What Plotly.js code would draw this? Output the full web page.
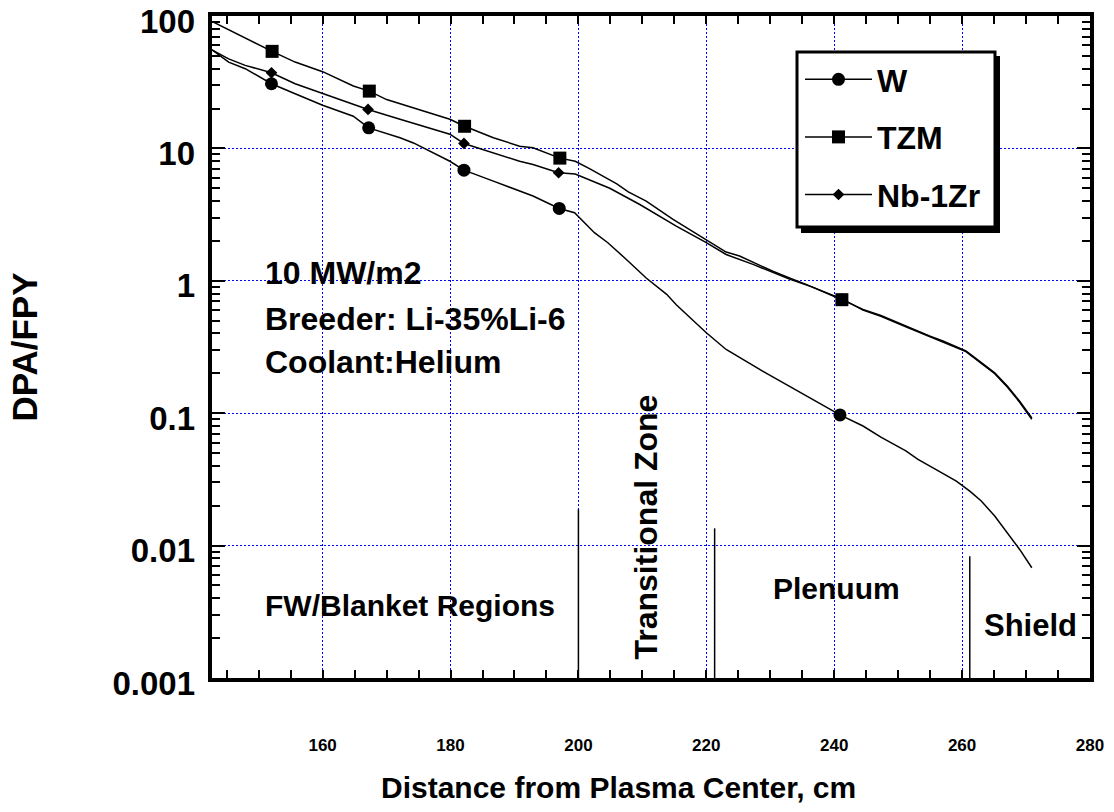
<!DOCTYPE html>
<html><head><meta charset="utf-8">
<script src="https://cdn.plot.ly/plotly-3.0.1.min.js"></script>
<style>html,body{margin:0;padding:0;background:#fff}#chart{width:1114px;height:812px}</style>
</head><body><div id="chart"></div>
<script>
// ---- data ----
const W_x = [142.7,145.3,147.9,152.0,155.7,160.0,164.8,167.2,172.1,174.2,179.9,182.1,186.7,192.9,197.0,199.4,202.5,204.6,207.5,210.6,213.8,215.3,220.0,223.1,228.8,233.0,235.6,240.9,244.5,247.3,251.2,253.1,254.9,259.1,261.2,263.0,265.1,267.1,269.0,270.9];
const W_y = [55.6,44.9,40.0,30.8,25.9,21.2,17.5,14.3,12.05,11.0,8.0,6.85,5.66,4.37,3.52,3.27,2.31,1.94,1.45,1.05,0.79,0.66,0.405,0.303,0.208,0.16,0.135,0.097,0.080,0.066,0.052,0.0448,0.040,0.0307,0.0258,0.0217,0.0167,0.0125,0.00935,0.0068];
const W_markX = [152.0,167.2,182.1,197.0,240.9];

const TZM_x = [142.7,145.8,147.9,152.1,155.7,160.0,164.8,167.3,170.0,174.2,179.9,182.2,186.7,190.8,192.9,197.1,199.5,201.8,206.0,207.8,210.6,214.8,217.4,220.0,223.1,225.2,230.4,233.0,235.6,241.2,244.5,247.3,251.2,254.9,257.0,260.6,262.7,265.1,267.1,269.0,270.9];
const TZM_y = [91,76.6,67.4,54.1,44.9,38.0,29.6,27.1,23.4,20.3,16.6,14.7,12.05,10.4,10.1,8.45,8.0,7.0,5.4,4.7,4.0,2.91,2.44,2.05,1.65,1.54,1.18,1.05,0.94,0.72,0.608,0.548,0.455,0.383,0.351,0.295,0.247,0.202,0.160,0.123,0.092];
const TZM_markX = [152.1,167.3,182.2,197.1,241.2];

const Nb_x = [142.7,145.3,147.9,152.0,155.7,160.0,164.8,167.1,172.1,179.9,182.1,186.7,190.8,192.9,196.9,199.5,204.9,209.6,215.3,220.0,223.1,227.3,233.0,236.5,241.2,244.5,247.3,251.2,254.9,257.0,260.6,262.7,265.1,267.1,269.0,270.9];
const Nb_y = [55.6,47.5,42.4,37.3,30.8,26.0,21.5,19.7,16.6,12.8,10.9,9.27,8.0,7.57,6.55,6.4,5.0,3.77,2.59,1.94,1.58,1.33,1.03,0.9,0.73,0.60,0.54,0.45,0.378,0.347,0.292,0.244,0.199,0.157,0.121,0.090];
const Nb_markX = [152.0,167.1,182.1,196.9,241.2];

// region boundaries (cm) and the height of each boundary line (DPA/FPY)
const regionX = [200, 221.3, 261.2];
const regionTop = [0.0188, 0.0135, 0.0083];

const xTickVals = [160,180,200,220,240,260,280];
const xTickText = ['160','180','200','220','240','260','280'];
const yTickVals = [0.001,0.01,0.1,1,10,100];
const yTickText = ['0.001','0.01','0.1','1','10','100'];

// ---- layout helpers ----
const FONT = 'Liberation Sans, Arial, Helvetica, sans-serif';
const L = 212, R = 1090, T = 16, B = 678;
const X_RANGE = [142.7, 280], Y_RANGE = [-3.0003, 2.0003];
const px = x => (x - L) / (R - L);
const py = y => 1 - (y - T) / (B - T);
const bold = (size) => ({family: FONT, size: size, color: '#000', weight: 'bold'});

function lineTrace(xs, ys, grp) {
  return {x: xs, y: ys, type: 'scatter', mode: 'lines', legendgroup: grp, showlegend: false,
          line: {color: '#000', width: 1.5}, hoverinfo: 'skip'};
}
function markTrace(name, xs, ys, markX, symbol, size) {
  const mx = [], my = [];
  markX.forEach(v => { const i = xs.indexOf(v); mx.push(v, null); my.push(ys[i], null); });
  return {x: mx, y: my, type: 'scatter', mode: 'lines+markers', name: name, legendgroup: name,
          line: {color: '#000', width: 1.5}, connectgaps: false,
          marker: {symbol: symbol, size: size, color: '#000'}, hoverinfo: 'skip'};
}

const rx = [], ry = [];
regionX.forEach((v, i) => { rx.push(v, v, null); ry.push(0.001, regionTop[i], null); });

const yMinor = [];
for (let e = -3; e < 2; e++) for (let d = 2; d <= 9; d++) yMinor.push(d * Math.pow(10, e));
const xMinor = [];
for (let v = 145; v < 280; v += 5) if (v % 20 !== 0) xMinor.push(v);

const data = [
  {x: [], y: [], xaxis: 'x2', yaxis: 'y2', type: 'scatter', mode: 'lines', showlegend: false, hoverinfo: 'skip'},
  lineTrace(W_x, W_y, 'W'),
  lineTrace(TZM_x, TZM_y, 'TZM'),
  lineTrace(Nb_x, Nb_y, 'Nb-1Zr'),
  {x: rx, y: ry, type: 'scatter', mode: 'lines', showlegend: false, line: {color: '#000', width: 1.5}, hoverinfo: 'skip'},
  markTrace('W', W_x, W_y, W_markX, 'circle', 13),
  markTrace('TZM', TZM_x, TZM_y, TZM_markX, 'square', 13),
  markTrace('Nb-1Zr', Nb_x, Nb_y, Nb_markX, 'diamond', 9)
];

const grid = {showgrid: true, gridcolor: '#0000ff', gridwidth: 1, griddash: '2px,2px', zeroline: false};
const tickStyle = {ticks: 'inside', tickwidth: 2, tickcolor: '#000'};

const layout = {
  width: 1114, height: 812,
  paper_bgcolor: '#fff', plot_bgcolor: '#fff',
  margin: {l: L, r: 1114 - R, t: T, b: 812 - B, autoexpand: false},
  showlegend: true,
  // axes carrying frame and tick marks
  xaxis: Object.assign({
    type: 'linear', range: X_RANGE, zeroline: false, showgrid: false, layer: 'above traces',
    showline: true, linecolor: '#000', linewidth: 4, mirror: 'allticks',
    ticklen: 8, tickmode: 'array', tickvals: xTickVals, showticklabels: false,
    minor: Object.assign({tickmode: 'array', tickvals: xMinor, ticklen: 8, showgrid: false}, tickStyle),
    automargin: false
  }, tickStyle),
  yaxis: Object.assign({
    type: 'log', range: Y_RANGE, zeroline: false, showgrid: false, layer: 'above traces',
    showline: true, linecolor: '#000', linewidth: 4, mirror: 'allticks',
    ticklen: 13, tickmode: 'array', tickvals: yTickVals, showticklabels: false,
    minor: Object.assign({tickmode: 'array', tickvals: yMinor, ticklen: 8, showgrid: false}, tickStyle),
    automargin: false
  }, tickStyle),
  // overlay axes carrying grid and tick labels
  xaxis2: Object.assign({
    overlaying: 'x', anchor: 'y', side: 'bottom', type: 'linear', range: X_RANGE,
    showline: false, ticks: '', tickmode: 'array', tickvals: xTickVals, ticktext: xTickText,
    tickfont: bold(17), ticklabelstandoff: 55, automargin: false
  }, grid),
  yaxis2: Object.assign({
    overlaying: 'y', anchor: 'x', side: 'left', type: 'log', range: Y_RANGE,
    showline: false, ticks: '', tickmode: 'array', tickvals: yTickVals, ticktext: yTickText,
    tickfont: bold(33), ticklabelstandoff: 16, ticklabelshift: 5, ticklabeloverflow: 'allow',
    title: {text: 'DPA/FPY', font: bold(35), standoff: 64},
    automargin: false
  }, grid),
  legend: {
    x: px(800), y: py(52), xanchor: 'left', yanchor: 'top',
    bgcolor: 'rgba(0,0,0,0)', borderwidth: 0,
    font: bold(32), itemwidth: 67, traceorder: 'grouped', tracegroupgap: 13
  },
  shapes: [
    {type: 'rect', xref: 'paper', yref: 'paper', x0: px(801), x1: px(1000), y0: py(233), y1: py(56),
     fillcolor: '#000', line: {width: 0}, layer: 'above'},
    {type: 'rect', xref: 'paper', yref: 'paper', x0: px(797), x1: px(995), y0: py(227), y1: py(52),
     fillcolor: '#fff', line: {color: '#000', width: 3}, layer: 'above'}
  ],
  annotations: [
    {text: '10 MW/m2', x: px(263), y: py(273.4), xanchor: 'left', yanchor: 'middle', font: bold(32)},
    {text: 'Breeder: Li-35%Li-6', x: px(263), y: py(319.2), xanchor: 'left', yanchor: 'middle', font: bold(32)},
    {text: 'Coolant:Helium', x: px(263), y: py(361.7), xanchor: 'left', yanchor: 'middle', font: bold(32)},
    {text: 'FW/Blanket Regions', x: px(263), y: py(605.8), xanchor: 'left', yanchor: 'middle', font: bold(30)},
    {text: 'Transitional Zone', x: px(645), y: py(527.5), xanchor: 'center', yanchor: 'middle', textangle: -90, font: bold(32)},
    {text: 'Plenuum', x: px(836), y: py(588), xanchor: 'center', yanchor: 'middle', font: bold(30)},
    {text: 'Shield', x: px(1030), y: py(625), xanchor: 'center', yanchor: 'middle', font: bold(31)},
    {text: 'Distance from Plasma Center, cm', x: px(618.5), y: py(787), xanchor: 'center', yanchor: 'middle', font: bold(30)}
  ].map(a => Object.assign({xref: 'paper', yref: 'paper', showarrow: false}, a))
};

Plotly.newPlot('chart', data, layout, {displayModeBar: false, staticPlot: true});
</script>
</body></html>
